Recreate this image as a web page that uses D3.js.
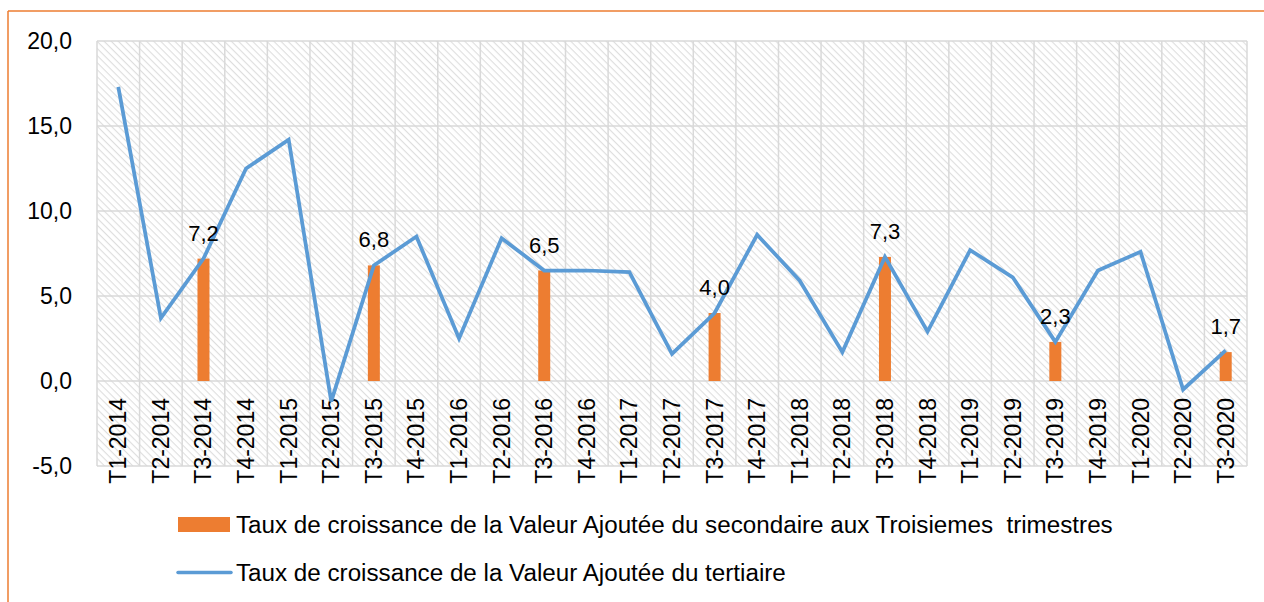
<!DOCTYPE html>
<html lang="fr">
<head>
  <meta charset="UTF-8" />
  <title>Taux de croissance de la Valeur Ajoutée</title>
  <script src="https://d3js.org/d3.v7.min.js"></script>
  <style>
    body { margin: 0; padding: 0; background: #fff; }
    svg { display: block; font-family: "Liberation Sans", Arial, sans-serif; }
  </style>
</head>
<body>
  <svg id="chart" width="1264" height="602"></svg>
  <script>
    const quarters = [
      "T1-2014", "T2-2014", "T3-2014", "T4-2014",
      "T1-2015", "T2-2015", "T3-2015", "T4-2015",
      "T1-2016", "T2-2016", "T3-2016", "T4-2016",
      "T1-2017", "T2-2017", "T3-2017", "T4-2017",
      "T1-2018", "T2-2018", "T3-2018", "T4-2018",
      "T1-2019", "T2-2019", "T3-2019", "T4-2019",
      "T1-2020", "T2-2020", "T3-2020"
    ];
    // tertiaire (line)
    const tertiaire = [
      17.3, 3.7, 7.2, 12.5,
      14.2, -1.2, 6.8, 8.5,
      2.5, 8.4, 6.5, 6.5,
      6.4, 1.6, 4.0, 8.6,
      5.9, 1.7, 7.3, 2.9,
      7.7, 6.1, 2.3, 6.5,
      7.6, -0.5, 1.8
    ];
    // secondaire, troisiemes trimestres only (bars)
    const secondaireQuarters = ["T3-2014", "T3-2015", "T3-2016", "T3-2017", "T3-2018", "T3-2019", "T3-2020"];
    const secondaire = [7.2, 6.8, 6.5, 4.0, 7.3, 2.3, 1.7];
    const yTicks = [-5, 0, 5, 10, 15, 20];
    const legendLabels = [
      "Taux de croissance de la Valeur Ajoutée du secondaire aux Troisiemes\u00a0 trimestres",
      "Taux de croissance de la Valeur Ajoutée du tertiaire"
    ];

    const orange = "#ED7D31", blue = "#5B9BD5", grid = "#d9d9d9";
    const svg = d3.select("#chart");
    const plot = { left: 97, right: 1247, top: 41, bottom: 466 };

    const x = d3.scaleBand().domain(quarters).range([plot.left, plot.right]);
    const y = d3.scaleLinear().domain([-5, 20]).range([plot.bottom, plot.top]);
    // excel style: comma decimal, plain hyphen for minus
    const fmt = v => v.toFixed(1).replace(".", ",");

    // frame lines (orange, left and top)
    svg.append("line").attr("x1", 8).attr("x2", 8).attr("y1", 11).attr("y2", 602)
      .attr("stroke", orange).attr("stroke-width", 1.5);
    svg.append("line").attr("x1", 8).attr("x2", 1264).attr("y1", 11).attr("y2", 11)
      .attr("stroke", orange).attr("stroke-width", 1.5);

    // hatched plot background (down-right diagonals)
    const defs = svg.append("defs");
    const pat = defs.append("pattern").attr("id", "hatch")
      .attr("patternUnits", "userSpaceOnUse").attr("width", 5).attr("height", 5)
      .attr("patternTransform", "rotate(45)");
    pat.append("rect").attr("width", 5).attr("height", 5).attr("fill", "#fff");
    pat.append("line").attr("x1", 0).attr("y1", 0).attr("x2", 5).attr("y2", 0)
      .attr("stroke", "#dedede").attr("stroke-width", 2.2);

    svg.append("rect").attr("x", plot.left).attr("y", plot.top)
      .attr("width", plot.right - plot.left).attr("height", plot.bottom - plot.top)
      .attr("fill", "url(#hatch)");

    // gridlines
    svg.append("g").selectAll("line").data(yTicks).join("line")
      .attr("x1", plot.left).attr("x2", plot.right)
      .attr("y1", d => y(d)).attr("y2", d => y(d))
      .attr("stroke", grid).attr("stroke-width", 1.5);
    const vlines = quarters.map(q => x(q)).concat([plot.right]);
    svg.append("g").selectAll("line").data(vlines).join("line")
      .attr("x1", d => d).attr("x2", d => d)
      .attr("y1", plot.top).attr("y2", plot.bottom)
      .attr("stroke", grid).attr("stroke-width", 1.5);

    // y axis labels
    svg.append("g").selectAll("text").data(yTicks).join("text")
      .attr("x", 72).attr("y", d => y(d)).attr("dy", "0.35em")
      .attr("text-anchor", "end").attr("font-size", 23).attr("fill", "#000")
      .text(fmt);

    // category labels, rotated
    svg.append("g").selectAll("text").data(quarters).join("text")
      .attr("transform", d => `translate(${x(d) + x.bandwidth() / 2 + 8},398) rotate(-90)`)
      .attr("text-anchor", "end").attr("font-size", 23).attr("fill", "#000")
      .text(d => d);

    // bars
    const bw = 12;
    const barData = secondaireQuarters.map((q, i) => ({ q, v: secondaire[i] }));
    svg.append("g").selectAll("rect").data(barData).join("rect")
      .attr("x", d => x(d.q) + x.bandwidth() / 2 - bw / 2)
      .attr("y", d => y(d.v)).attr("width", bw)
      .attr("height", d => y(0) - y(d.v))
      .attr("fill", orange);

    // line
    const line = d3.line().x((d, i) => x(quarters[i]) + x.bandwidth() / 2).y(d => y(d));
    svg.append("path").datum(tertiaire).attr("d", line)
      .attr("fill", "none").attr("stroke", blue).attr("stroke-width", 3.75)
      .attr("stroke-linejoin", "miter");

    // bar data labels
    svg.append("g").selectAll("text").data(barData).join("text")
      .attr("x", d => x(d.q) + x.bandwidth() / 2).attr("y", d => y(d.v) - 18)
      .attr("text-anchor", "middle").attr("font-size", 22).attr("fill", "#000")
      .text(d => fmt(d.v));

    // legend
    const lg = svg.append("g");
    lg.append("rect").attr("x", 178).attr("y", 517).attr("width", 52).attr("height", 15).attr("fill", orange);
    lg.append("line").attr("x1", 178).attr("x2", 231).attr("y1", 572.5).attr("y2", 572.5)
      .attr("stroke", blue).attr("stroke-width", 3.5).attr("stroke-linecap", "round");
    const lt = lg.selectAll("text").data(legendLabels).join("text")
      .attr("x", 236).attr("y", (d, i) => 524.5 + i * 48).attr("dy", "0.35em")
      .attr("font-size", 21).attr("fill", "#000")
      .text(d => d);
    // fit first legend entry to the reference width
    const w0 = lt.nodes()[0].getComputedTextLength();
    lt.attr("font-size", 21 * 877 / w0);
  </script>
</body>
</html>
